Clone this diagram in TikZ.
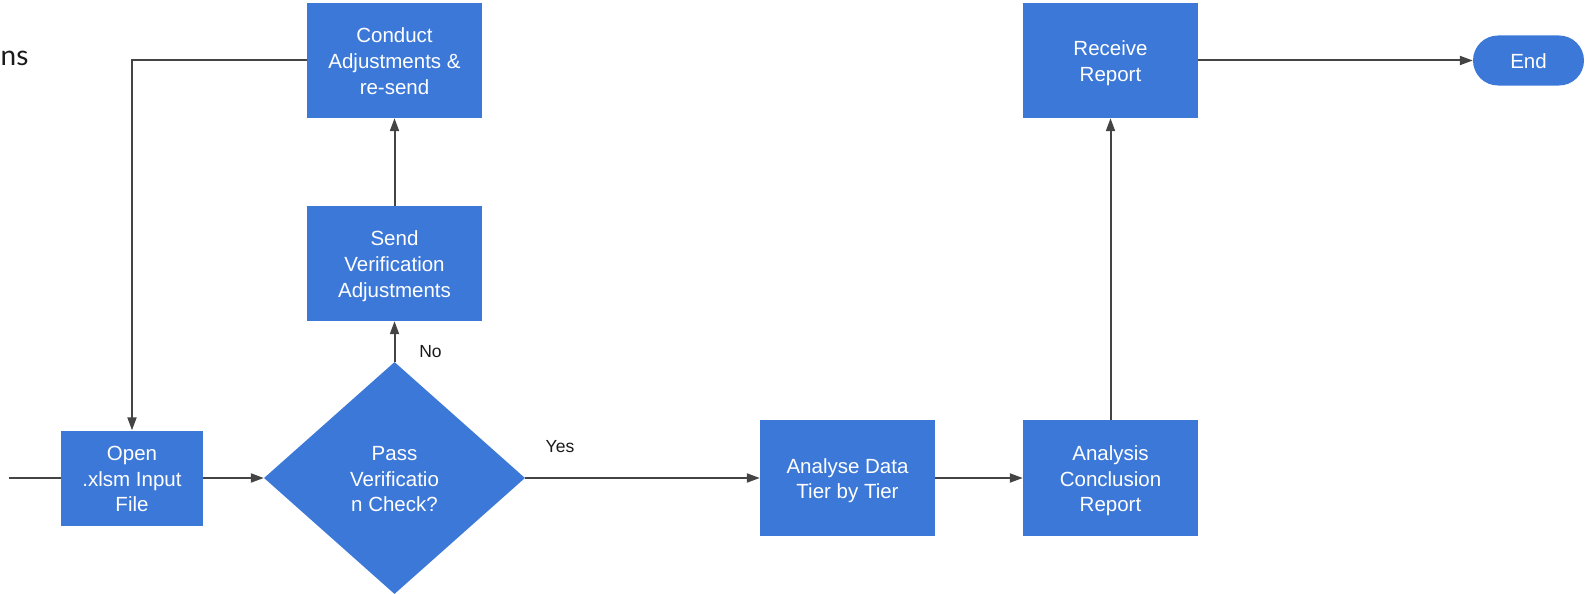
\documentclass[tikz,border=0pt]{standalone}
\usepackage{fontspec}
\setmainfont{Liberation Sans}
\newfontfamily\titlefont{Lato}
\usetikzlibrary{shapes.geometric,arrows.meta}
\definecolor{boxblue}{HTML}{3C78D8}
\definecolor{linegrey}{HTML}{444444}
\definecolor{labelink}{HTML}{1A1A1A}
% fixed first-line height and last-line depth so every text block sits alike
\newcommand\topstrut{\rule{0pt}{20.5pt}}
\newcommand\botstrut{\rule[-4.5pt]{0pt}{4.5pt}}
\tikzset{
  boxtext/.style={text=white, align=center,
    font=\fontsize{20.5}{25.8}\selectfont},
  stepbox/.style={rectangle, fill=boxblue, draw=none, inner sep=0pt,
    minimum width=175pt, minimum height=115pt, boxtext},
  decision/.style={diamond, fill=boxblue, draw=none, inner sep=0pt,
    minimum width=261pt, minimum height=232pt, boxtext},
  terminal/.style={rectangle, rounded corners=25pt, fill=boxblue, draw=none,
    inner sep=0pt, minimum width=111pt, minimum height=50pt, boxtext},
  flow/.style={draw=linegrey, line width=2pt},
  arr/.style={flow, -{Triangle[length=13pt,width=9pt]}},
  edgelabel/.style={text=labelink, font=\fontsize{17.5}{21}\selectfont, inner sep=0pt}
}
\begin{document}
\begin{tikzpicture}[x=1pt, y=-1pt]
  \useasboundingbox (0,0) rectangle (1585,594);
  \clip (0,0) rectangle (1585,594);

  % heading fragment at the left edge
  \node[anchor=base west, inner sep=0pt, text=labelink,
        font=\titlefont\fontsize{28}{33}\selectfont] (title) at (0.5,65.7) {ns};

  % process steps
  \node[stepbox, minimum width=142pt, minimum height=95pt] (open) at (132,478)
    {\topstrut Open\\.xlsm Input\\File\botstrut};
  \node[decision] (check) at (394.5,478)
    {\topstrut Pass\\Verificatio\\n Check?\botstrut};
  \node[stepbox] (send) at (394.5,263.5)
    {\topstrut Send\\Verification\\Adjustments\botstrut};
  \node[stepbox] (conduct) at (394.5,60.5)
    {\topstrut Conduct\\Adjustments \&\\re-send\botstrut};
  \node[stepbox, minimum height=116pt] (analyse) at (847.5,478)
    {\topstrut Analyse Data\\Tier by Tier\botstrut};
  \node[stepbox, minimum height=116pt] (concl) at (1110.5,478)
    {\topstrut Analysis\\Conclusion\\Report\botstrut};
  \node[stepbox] (receive) at (1110.5,60.5)
    {\topstrut Receive\\Report\botstrut};
  \node[terminal] (end) at (1528.5,60.5) {\topstrut End\botstrut};

  % incoming flow
  \coordinate (start) at (9,478);
  \draw[flow] (start) -- (open.west);

  % connectors
  \draw[arr] (open.east) -- (check.west);
  \draw[arr] (check.north) -- (send.south);
  \draw[arr] (send.north) -- (conduct.south);
  \draw[arr] (conduct.west) -| (open.north);
  \draw[arr] (check.east) -- (analyse.west);
  \draw[arr] (analyse.east) -- (concl.west);
  \draw[arr] (concl.north) -- (receive.south);
  \draw[arr] (receive.east) -- (end.west);

  % branch labels
  \node[edgelabel] (nolabel) at (430.5,351.5) {No};
  \node[edgelabel] (yeslabel) at (560,446.5) {Yes};
\end{tikzpicture}
\end{document}
